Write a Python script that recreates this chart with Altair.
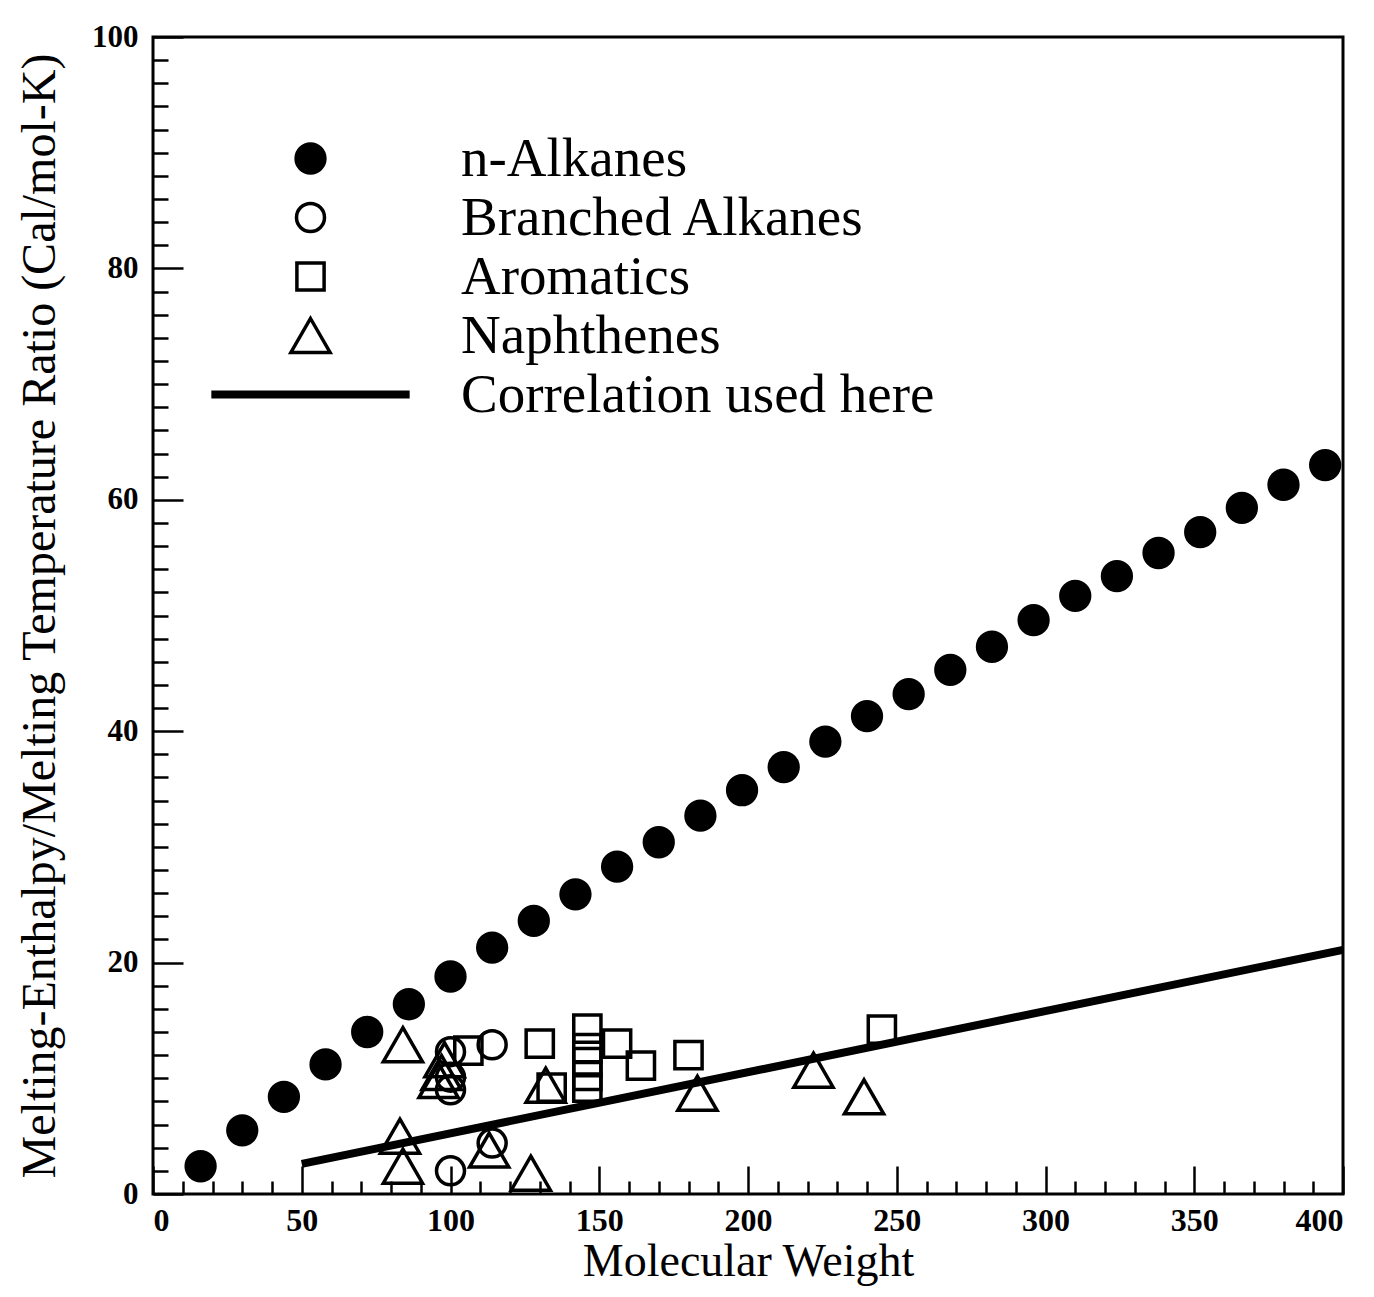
import altair as alt
import pandas as pd

# ---------------- data ----------------
alk_mw = [16, 30, 44, 58, 72, 86, 100, 114, 128, 142, 156, 170, 184, 198,
          212, 226, 240, 254, 268, 282, 296, 310, 324, 338, 352, 366, 380, 394]
alk_ratio = [2.4, 5.5, 8.4, 11.2, 14.0, 16.4, 18.8, 21.3, 23.6, 25.9, 28.3, 30.4, 32.7, 34.9,
             36.9, 39.1, 41.3, 43.2, 45.3, 47.3, 49.6, 51.7, 53.4, 55.4, 57.2, 59.3, 61.3, 63.0]

br_mw = [100, 100, 100, 114, 114, 100]
br_ratio = [12.3, 10.1, 9.0, 12.9, 4.4, 2.0]

aro_mw = [106, 130, 134, 146, 146, 146, 146, 146, 156, 164, 180, 245]
aro_ratio = [12.4, 13.0, 9.2, 14.3, 12.6, 11.4, 10.2, 9.2, 13.0, 11.1, 12.0, 14.2]

nap_mw = [84, 98, 97, 96, 132, 83, 84, 113, 127, 183, 222, 239]
nap_ratio = [12.9, 11.6, 10.5, 9.8, 9.4, 5.0, 2.4, 3.8, 1.8, 8.7, 10.7, 8.4]

corr_mw = [50, 400]
corr_ratio = [2.6, 21.1]

names = ["n-Alkanes", "Branched Alkanes", "Aromatics", "Naphthenes", "Correlation used here"]

x_label_values = list(range(0, 401, 50))
x_tick_values = list(range(0, 401, 10))
y_label_values = list(range(0, 101, 20))
y_tick_values = list(range(0, 101, 2))

# ---------------- tables ----------------
pts = pd.concat([
    pd.DataFrame({"mw": alk_mw, "ratio": alk_ratio, "series": names[0]}),
    pd.DataFrame({"mw": br_mw, "ratio": br_ratio, "series": names[1]}),
    pd.DataFrame({"mw": aro_mw, "ratio": aro_ratio, "series": names[2]}),
    pd.DataFrame({"mw": nap_mw, "ratio": nap_ratio, "series": names[3]}),
], ignore_index=True)
corr = pd.DataFrame({"mw": corr_mw, "ratio": corr_ratio})

W, H = 1190, 1157
FONT = "Liberation Serif"

shape_paths = [
    "M-0.72,0A0.72,0.72,0,1,1,0.72,0A0.72,0.72,0,1,1,-0.72,0Z",
    "M-0.7,0A0.7,0.7,0,1,1,0.7,0A0.7,0.7,0,1,1,-0.7,0Z",
    "M-0.68,-0.68L0.68,-0.68L0.68,0.68L-0.68,0.68Z",
    "M0,-0.85L0.98,0.85L-0.98,0.85Z",
    "M-4.87,-0.11L4.87,-0.11L4.87,0.11L-4.87,0.11Z",
]
fills = ["black", "transparent", "transparent", "transparent", "black"]
strokes = ["black", "black", "black", "black", "black"]

legend = alt.Legend(
    title=None, orient="none", legendX=130, legendY=94,
    labelFont=FONT, labelFontSize=55, labelColor="black", labelOffset=123,
    labelLimit=0, symbolSize=1600, symbolStrokeWidth=3.5, symbolStrokeColor="black",
    rowPadding=3, padding=0,
)

xscale = alt.Scale(domain=[0, 400], nice=False, zero=False)
yscale = alt.Scale(domain=[0, 100], nice=False, zero=False)

points = alt.Chart(pts).mark_point(
    filled=True, strokeWidth=3.5, size=1600, opacity=1
).encode(
    x=alt.X("mw:Q", scale=xscale, axis=alt.Axis(
        orient="bottom", values=x_label_values, ticks=False, tickSize=0, domain=False, grid=False,
        labelFont=FONT, labelFontSize=32, labelFontWeight="bold", labelColor="black",
        labelPadding=11,
        title="Molecular Weight", titleFont=FONT, titleFontSize=46, titleFontWeight="normal",
        titleColor="black", titlePadding=3)),
    y=alt.Y("ratio:Q", scale=yscale, axis=alt.Axis(
        orient="left", values=y_label_values, ticks=False, tickSize=0, domain=False, grid=False,
        labelFont=FONT, labelFontSize=31, labelFontWeight="bold", labelColor="black",
        labelPadding=15,
        title="Melting-Enthalpy/Melting Temperature Ratio (Cal/mol-K)", titleFont=FONT,
        titleFontSize=48, titleFontWeight="normal", titleColor="black", titlePadding=27)),
    shape=alt.Shape("series:N", scale=alt.Scale(domain=names, range=shape_paths), legend=legend),
    fill=alt.Fill("series:N", scale=alt.Scale(domain=names, range=fills), legend=legend),
    stroke=alt.Stroke("series:N", scale=alt.Scale(domain=names, range=strokes), legend=legend),
)

line = alt.Chart(corr).mark_line(color="black", strokeWidth=8).encode(
    x=alt.X("mw:Q", scale=xscale, axis=alt.Axis(
        orient="top", offset=-H, values=x_tick_values, labels=False, domain=False, grid=False,
        tickColor="black", tickWidth=2.5,
        tickSize={"condition": {"test": "datum.value % 50 === 0", "value": 28}, "value": 13},
        title=None)),
    y=alt.Y("ratio:Q", scale=yscale, axis=alt.Axis(
        orient="right", offset=-W, values=y_tick_values, labels=False, domain=False, grid=False,
        tickColor="black", tickWidth=2.5,
        tickSize={"condition": {"test": "datum.value % 20 === 0", "value": 30}, "value": 15},
        title=None)),
)

chart = alt.layer(line, points).resolve_axis(
    x="independent", y="independent"
).properties(
    width=W, height=H,
    autosize=alt.AutoSizeParams(type="none"),
    padding={"left": 145, "top": 29, "right": 15, "bottom": 92},
    background="white",
).configure_view(
    stroke="black", strokeWidth=3
)

chart.save("out.html", embed_options={"renderer": "svg", "actions": False})
